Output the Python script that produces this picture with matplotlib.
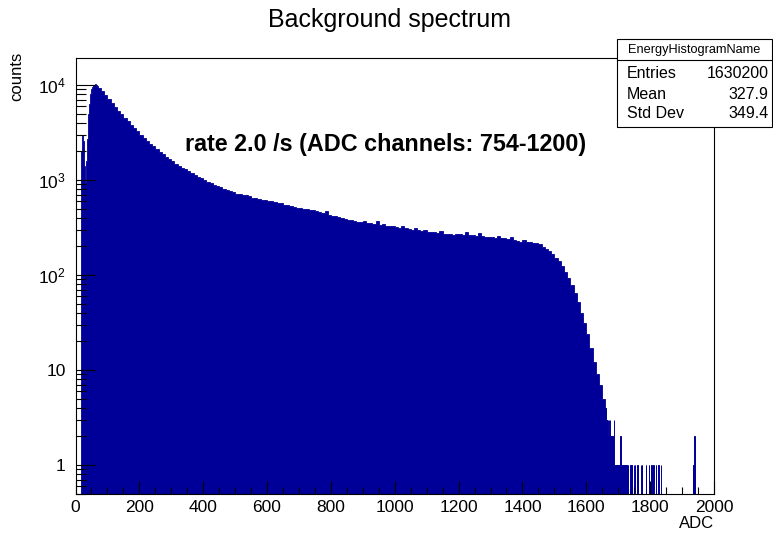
import numpy as np
import matplotlib
matplotlib.use("Agg")
import matplotlib.pyplot as plt
from matplotlib.ticker import FixedLocator, FuncFormatter, LogLocator, NullFormatter, MultipleLocator
from matplotlib.patches import Rectangle
from matplotlib.lines import Line2D

plt.rcParams["font.family"] = ["Liberation Sans", "DejaVu Sans"]
plt.rcParams["mathtext.fontset"] = "custom"
plt.rcParams["mathtext.rm"] = "Liberation Sans"

FILL = "#000099"

# ---- spectrum: counts per ADC channel ----
# rising edge, 2-channel bins from ADC 16 to 70
head_edges = list(range(16, 71, 2))
head_counts = [350, 2000, 3000, 2900, 2600, 2000, 1400, 950, 1000, 1600,
               2700, 3900, 4900, 6300, 7200, 8000, 8600, 9100, 9500, 9800,
               10000, 10100, 10200, 10200, 10100, 9900, 9700]

# main body, 10-channel bins from ADC 70 to 1660
body_start, body_step = 70, 10
body_counts = [
    9300, 8600, 7900, 7050, 6500, 5800, 5300, 4900, 4500, 4150,
    3800, 3500, 3250, 3000, 2800, 2600, 2420, 2270, 2130, 1990,
    1880, 1760, 1660, 1570, 1480, 1420, 1350, 1290, 1240, 1190,
    1120, 1070, 1040, 1000, 960, 930, 890, 870, 840, 810,
    790, 760, 750, 720, 720, 690, 690, 670, 650, 650,
    630, 620, 610, 600, 600, 580, 570, 570, 550, 540,
    530, 520, 510, 505, 495, 490, 480, 480, 470, 455,
    450, 470, 430, 420, 415, 410, 395, 390, 380, 380,
    370, 365, 360, 372, 350, 355, 345, 368, 335, 340,
    330, 330, 325, 320, 315, 325, 310, 305, 300, 312,
    295, 290, 295, 285, 285, 280, 275, 290, 270, 268,
    272, 265, 270, 268, 265, 280, 262, 265, 258, 275,
    255, 252, 250, 248, 245, 258, 242, 245, 238, 250,
    235, 228, 224, 235, 220, 225, 218, 215, 210, 198,
    188, 178, 165, 152, 140, 125, 108, 92, 78, 64,
    52, 40, 31, 24, 17, 12, 9, 7, 5,
]

# sparse tail, single channels
tail_channels = [
    1660, 1661, 1662, 1663, 1664, 1665, 1666, 1667, 1668, 1669,
    1670, 1671, 1672, 1673, 1674, 1675, 1676, 1677, 1678, 1679,
    1680, 1681, 1682, 1683, 1684, 1685, 1686, 1687, 1688, 1689,
    1690, 1692, 1693, 1694, 1695, 1696, 1697, 1698, 1700, 1701,
    1702, 1703, 1704, 1705, 1706, 1707, 1708, 1709, 1710, 1712,
    1713, 1714, 1715, 1716, 1717, 1719, 1720, 1721, 1722, 1724,
    1725, 1726, 1730, 1731, 1738, 1741, 1742, 1748, 1751, 1752,
    1760, 1761, 1770, 1774, 1775, 1786, 1787, 1795, 1796, 1803,
    1804, 1810, 1817, 1818, 1825, 1826, 1833, 1934, 1935, 1938,
]
tail_counts = [
    4, 3, 4, 3, 3, 3, 2, 3, 2, 2,
    2, 3, 2, 3, 2, 2, 2, 1, 2, 2,
    1, 2, 2, 1, 2, 1, 1, 3, 1, 1,
    1, 1, 1, 1, 1, 1, 1, 1, 1, 1,
    1, 1, 1, 1, 1, 2, 1, 1, 1, 1,
    1, 1, 1, 1, 1, 1, 1, 1, 1, 1,
    1, 1, 1, 1, 1, 1, 1, 1, 1, 1,
    1, 1, 1, 1, 1, 1, 1, 1, 1, 1,
    1, 1, 1, 1, 1, 1, 1, 1, 1, 2,
]

stats_rows = [("Entries", "1630200"), ("Mean", "327.9"), ("Std Dev", "349.4")]
x_ticks = [0, 200, 400, 600, 800, 1000, 1200, 1400, 1600, 1800, 2000]

# ---- figure ----
W, H = 773, 535
fig = plt.figure(figsize=(W / 100, H / 100), dpi=100)
fl, fr, ft, fb = 75.5, 714, 58.3, 493.5
ax = fig.add_axes([fl / W, 1 - fb / H, (fr - fl) / W, (fb - ft) / H])

ax.set_yscale("log")
ax.set_xlim(0, 2000)
ax.set_ylim(0.5, 1.91e4)

head_e = np.array(head_edges, dtype=float)
ax.stairs(head_counts, head_e, fill=True, baseline=0.01,
          facecolor=FILL, edgecolor=FILL, linewidth=0.6)
body_e = body_start + body_step * np.arange(len(body_counts) + 1)
ax.stairs(body_counts, body_e, fill=True, baseline=0.01,
          facecolor=FILL, edgecolor=FILL, linewidth=0.6)
ax.bar(tail_channels, tail_counts, width=1, align="edge",
       color=FILL, edgecolor=FILL, linewidth=0.7)

# axes styling
for s in ax.spines.values():
    s.set_linewidth(0.8)
    s.set_color("black")

ax.xaxis.set_major_locator(FixedLocator(x_ticks))
ax.xaxis.set_minor_locator(MultipleLocator(50))
ax.yaxis.set_major_locator(LogLocator(base=10, numticks=10))
ax.yaxis.set_minor_locator(LogLocator(base=10, subs=np.arange(2, 10), numticks=20))
ax.yaxis.set_minor_formatter(NullFormatter())


def ylab(v, pos):
    e = int(round(np.log10(v)))
    if e == 0:
        return "1"
    if e == 1:
        return "10"
    return r"$\mathregular{10^{%d}}$" % e


ax.yaxis.set_major_formatter(FuncFormatter(ylab))
ax.tick_params(axis="both", which="both", direction="in", top=False, right=False,
               colors="black", labelsize=12.5)
ax.tick_params(axis="x", which="major", length=9.4, width=0.8, pad=5)
ax.tick_params(axis="x", which="minor", length=4.7, width=0.8)
ax.tick_params(axis="y", which="major", length=13.7, width=0.8, pad=7)
ax.tick_params(axis="y", which="minor", length=6.9, width=0.8)

# titles and labels
fig.text(390 / W, 1 - 20 / H, "Background spectrum", ha="center", va="center", fontsize=18)
fig.text(17 / W, 1 - 52 / H, "counts", rotation=90, ha="center", va="top", fontsize=12)
fig.text(fr / W, 1 - 523 / H, "ADC", ha="right", va="center", fontsize=12)
fig.text(185 / W, 1 - 145 / H, "rate 2.0 /s (ADC channels: 754-1200)",
         ha="left", va="center", fontsize=16.8, fontweight="bold")

# statistics box
bl, bt, br, bb = 617.3, 39.3, 771.5, 126.7
fig.add_artist(Rectangle((bl / W, 1 - bb / H), (br - bl) / W, (bb - bt) / H,
                         transform=fig.transFigure, facecolor="white",
                         edgecolor="black", linewidth=0.8, zorder=5))
fig.add_artist(Line2D([bl / W, br / W], [1 - 60 / H, 1 - 60 / H],
                      transform=fig.transFigure, color="black", linewidth=0.8, zorder=6))
fig.text((bl + br) / 2 / W, 1 - 50 / H, "EnergyHistogramName", ha="center", va="center",
         fontsize=9.2, zorder=7)
for (name, val), yc in zip(stats_rows, [73.3, 94.3, 113.3]):
    fig.text(627 / W, 1 - yc / H, name, ha="left", va="center", fontsize=11.5, zorder=7)
    fig.text(768.5 / W, 1 - yc / H, val, ha="right", va="center", fontsize=11.5, zorder=7)

fig.savefig("out.png", dpi=100)
